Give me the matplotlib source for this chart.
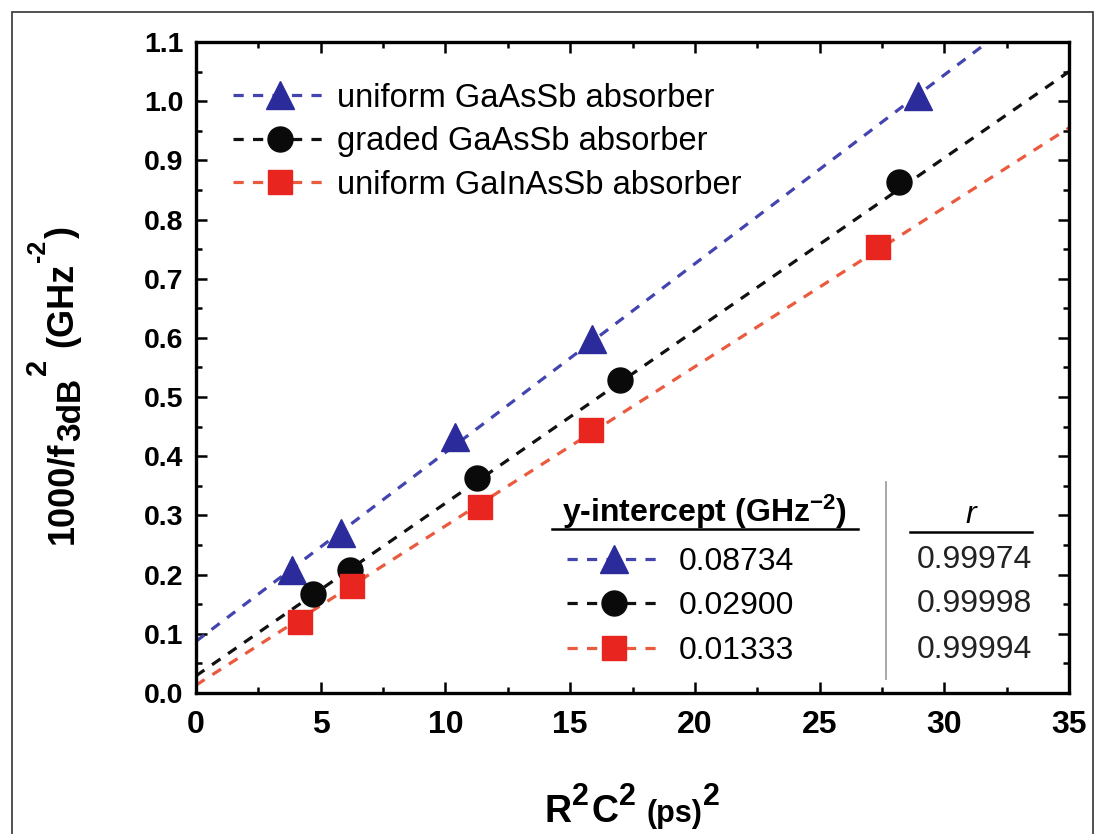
import matplotlib
matplotlib.use("Agg")
import matplotlib.pyplot as plt
from matplotlib.patches import Rectangle
from matplotlib.ticker import MultipleLocator, FormatStrFormatter
from matplotlib.transforms import IdentityTransform
import numpy as np

plt.rcParams['font.family'] = ['Liberation Sans', 'DejaVu Sans']
plt.rcParams['mathtext.fontset'] = 'custom'
plt.rcParams['mathtext.rm'] = 'Liberation Sans:bold'
plt.rcParams['mathtext.bf'] = 'Liberation Sans:bold'
plt.rcParams['mathtext.it'] = 'Liberation Sans:bold'

# data
names = ['uniform GaAsSb absorber', 'graded GaAsSb absorber', 'uniform GaInAsSb absorber']
x_uniform = [3.85, 5.80, 10.38, 15.87, 28.96]
y_uniform = [0.207, 0.270, 0.432, 0.599, 1.009]
x_graded = [4.70, 6.17, 11.28, 17.00, 28.19]
y_graded = [0.168, 0.208, 0.363, 0.529, 0.864]
x_gain = [4.17, 6.24, 11.39, 15.85, 27.36]
y_gain = [0.120, 0.180, 0.314, 0.444, 0.754]

intercepts = [0.08734, 0.02900, 0.01333]
slopes = [0.0319, 0.02917, 0.0269]
r_values = [0.99974, 0.99998, 0.99994]

xs = [x_uniform, x_graded, x_gain]
ys = [y_uniform, y_graded, y_gain]
markers = ['^', 'o', 's']
msizes = [20, 18, 17.5]
mcolors = ['#2b2b9c', '#0a0a0a', '#e8261f']
lcolors = ['#4444b0', '#111111', '#ea5a3e']

fig = plt.figure(figsize=(10.96, 8.34), dpi=100)
ax = fig.add_axes([196/1096, 141/834, 873/1096, 651/834])

xfit = np.array([0, 36])
handles = []
for i in range(3):
    fl, = ax.plot(xfit, intercepts[i] + slopes[i]*xfit, ls='--', color=lcolors[i],
                  lw=2.3, dashes=(3.2, 2.9), zorder=2)
    pt, = ax.plot(xs[i], ys[i], ls='none', marker=markers[i], ms=msizes[i],
                  color=mcolors[i], mec=mcolors[i], zorder=3)
    handles.append((fl, pt))

ax.set_xlim(0, 35)
ax.set_ylim(0, 1.1)
ax.xaxis.set_major_locator(MultipleLocator(5))
ax.xaxis.set_minor_locator(MultipleLocator(2.5))
ax.yaxis.set_major_locator(MultipleLocator(0.1))
ax.yaxis.set_minor_locator(MultipleLocator(0.05))
ax.yaxis.set_major_formatter(FormatStrFormatter('%.1f'))
ax.tick_params(which='both', direction='in', top=True, right=True, width=1.8)
ax.tick_params(which='major', length=8)
ax.tick_params(which='minor', length=4.5)
ax.tick_params(axis='x', labelsize=23, pad=12)
ax.tick_params(axis='y', labelsize=20.5, pad=9)
for lab in ax.get_xticklabels() + ax.get_yticklabels():
    lab.set_fontweight('bold')
for s in ax.spines.values():
    s.set_linewidth(2.4)

leg1 = ax.legend(handles, names, loc='center left', bbox_to_anchor=(0.0424, 0.847),
                 frameon=False, fontsize=23.5, handlelength=2.9, handletextpad=0.28,
                 labelspacing=0.38, borderpad=0, borderaxespad=0)
ax.add_artist(leg1)

leg2 = ax.legend(handles, ['%.5f' % v for v in intercepts], loc='center left',
                 bbox_to_anchor=(0.425, 0.133), frameon=False, fontsize=23,
                 handlelength=2.95, handletextpad=0.56, labelspacing=0.46,
                 borderpad=0, borderaxespad=0)

# table headers of the lower legend
ax.text(0.583, 0.278, r'y-intercept (GHz$^{-2}$)', transform=ax.transAxes,
        ha='center', va='center', fontsize=23, fontweight='bold')
ax.plot([0.408, 0.758], [0.252, 0.252], transform=ax.transAxes, color='black', lw=1.8)
ax.text(0.888, 0.273, 'r', transform=ax.transAxes, ha='center', va='center',
        fontsize=23, fontstyle='italic')
ax.plot([0.818, 0.958], [0.247, 0.247], transform=ax.transAxes, color='black', lw=1.8)
ax.plot([0.790, 0.790], [0.0215, 0.324], transform=ax.transAxes, color='#a0a0a0', lw=1.3)
for k, yy in enumerate([0.204, 0.136, 0.066]):
    ax.text(0.892, yy, '%.5f' % r_values[k], transform=ax.transAxes, ha='center',
            va='center', fontsize=23, color='#222222')


def chain(pieces, base, center, vertical):
    # lay out text pieces one after another (sub/superscripts as shifted pieces)
    r = fig.canvas.get_renderer()
    texts, pos = [], 0.0
    for s, size, off, gap in pieces:
        pos += gap
        if vertical:
            t = fig.text(base - off, pos, s, rotation=90, rotation_mode='anchor',
                         ha='left', va='baseline', fontsize=size, fontweight='bold',
                         transform=IdentityTransform())
            pos += t.get_window_extent(r).height
        else:
            t = fig.text(pos, base + off, s, ha='left', va='baseline', fontsize=size,
                         fontweight='bold', transform=IdentityTransform())
            pos += t.get_window_extent(r).width
        texts.append(t)
    shift = center - pos / 2
    for t in texts:
        x, y = t.get_position()
        if vertical:
            t.set_position((x, y + shift))
        else:
            t.set_position((x + shift, y))


chain([('1000/f', 26, 0, 0), ('3dB', 24, -8, 1), ('2', 21, 26, 2),
       ('(GHz', 26, 0, 12), ('-2', 18, 27, 1), (')', 26, 0, 2)],
      base=72, center=834 - 385, vertical=True)
chain([('R', 27, 0, 0), ('2', 22, 17, 1), ('C', 27, 0, 2), ('2', 22, 17, 1),
       ('(ps)', 22, 0, 10), ('2', 22, 17, 1)],
      base=834 - 822, center=632, vertical=False)

fig.patches.append(Rectangle((11.7/1096, -0.05), (1092.7-11.7)/1096, 1.05-11.7/834,
                             transform=fig.transFigure, fill=False, ec='#333333', lw=1.2))

fig.savefig('out.png', dpi=100)
